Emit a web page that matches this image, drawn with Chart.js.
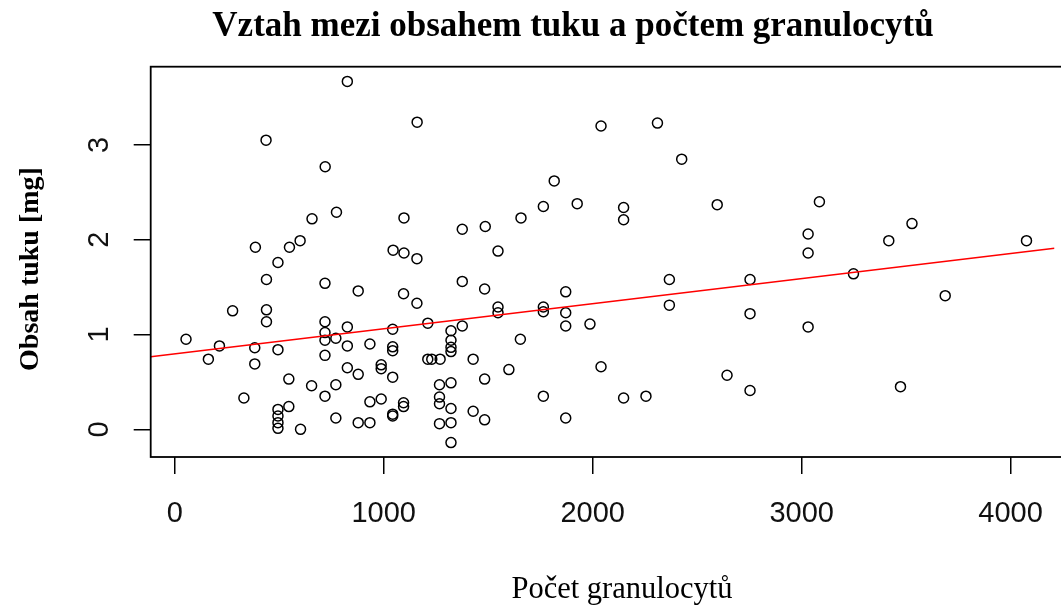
<!DOCTYPE html>
<html><head><meta charset="utf-8">
<script src="https://cdn.jsdelivr.net/npm/chart.js@4/dist/chart.umd.min.js"></script>
<style>html,body{margin:0;padding:0;background:#fff;}canvas{display:block}</style>
</head><body>
<canvas id="c" width="1061" height="606"></canvas>
<script>
const titleText = "Vztah mezi obsahem tuku a počtem granulocytů";
const xTitle = "Počet granulocytů";
const yTitle = "Obsah tuku [mg]";

const granulocyty = [826,1160,437,2040,2310,2426,720,1816,774,657,
1097,1764,1926,2148,2148,2596,1657,1486,1376,3085,
3031,3031,3417,3528,4076,386,549,600,494,1045,
1097,1159,1547,439,719,878,1095,1159,1376,1483,
1871,2367,2753,3248,3687,277,439,439,1547,1547,
1764,1764,1871,2367,2753,1871,1987,1376,3031,54,
214,161,383,383,494,719,719,719,719,826,
771,826,934,1043,1043,1043,1211,1322,1322,1322,
1322,1211,1230,1270,1428,546,655,771,719,331,
826,878,988,988,1043,934,988,1095,1095,1043,
1043,546,494,494,494,494,602,771,878,934,
1267,1322,1267,1267,1322,1267,1322,1322,1428,1483,
1483,1599,1654,1764,2148,2255,2040,2643,2753,3473,
1871];

const tuk = [3.67,3.24,3.05,3.20,3.23,2.85,2.77,2.62,2.29,2.22,
2.23,2.35,2.38,2.34,2.21,2.37,2.23,2.14,2.11,2.40,
2.06,1.86,1.99,2.17,1.99,1.92,1.92,1.99,1.76,1.89,
1.86,1.80,1.88,1.58,1.54,1.46,1.43,1.33,1.56,1.48,
1.45,1.58,1.58,1.64,1.41,1.25,1.26,1.135,1.29,1.23,
1.29,1.24,1.23,1.31,1.22,1.09,1.11,1.09,1.08,0.95,
0.88,0.74,0.86,0.69,0.84,1.135,1.02,0.94,0.78,1.08,
0.96,0.88,0.90,1.055,0.87,0.83,1.12,1.04,0.94,0.865,
0.82,0.74,0.74,0.74,0.74,0.53,0.46,0.47,0.35,0.33,
0.65,0.58,0.68,0.64,0.55,0.29,0.32,0.28,0.24,0.16,
0.14,0.24,0.21,0.14,0.07,0.01,0.0,0.12,0.07,0.07,
0.47,0.49,0.34,0.27,0.22,0.06,0.07,-0.14,0.19,0.10,
0.53,0.63,0.95,0.35,0.33,0.35,0.66,0.57,0.41,0.45,
0.12];

const xTicks = [0,1000,2000,3000,4000];
const yTicks = [0,1,2,3];
const fitX = [-115, 4210];
const fitY = [0.766, 1.910];
const xRange = [-115, 4210];
const yRange = [-0.292, 3.825];

const pts = granulocyty.map((x,i)=>({x:x, y:tuk[i]}));
const fit = fitX.map((x,i)=>({x:x, y:fitY[i]}));

const rPlot = {
  id:'rplot',
  afterDraw(chart){
    const ctx = chart.ctx, a = chart.chartArea, xs = chart.scales.x, ys = chart.scales.y;
    ctx.save();
    ctx.strokeStyle = '#000'; ctx.lineWidth = 1.8;
    ctx.strokeRect(a.left, a.top, a.right - a.left + 10, a.bottom - a.top);
    ctx.fillStyle = '#111';
    ctx.font = '29px "Liberation Sans", Arial, sans-serif';
    ctx.textAlign = 'center'; ctx.textBaseline = 'alphabetic';
    xs.ticks.forEach(t => ctx.fillText(String(t.value), xs.getPixelForValue(t.value), 522));
    ys.ticks.forEach(t => {
      ctx.save(); ctx.translate(108, ys.getPixelForValue(t.value)); ctx.rotate(-Math.PI/2);
      ctx.fillText(String(t.value), 0, 0); ctx.restore();
    });
    ctx.fillStyle = '#000';
    ctx.font = 'bold 35px "Liberation Serif", "Times New Roman", serif';
    ctx.fillText(titleText, 573, 36);
    ctx.font = '30.5px "Liberation Serif", "Times New Roman", serif';
    ctx.fillText(xTitle, 622, 598);
    ctx.save(); ctx.translate(38, 269); ctx.rotate(-Math.PI/2);
    ctx.font = 'bold 28px "Liberation Serif", "Times New Roman", serif';
    ctx.fillText(yTitle, 0, 0); ctx.restore();
    ctx.restore();
  }
};

new Chart(document.getElementById('c'), {
  type: 'scatter',
  data: { datasets: [
    { data: fit, showLine: true, pointRadius: 0, borderColor: '#ff0000', borderWidth: 1.6, order: 0 },
    { data: pts, pointRadius: 5, pointBorderWidth: 1.5, pointBorderColor: '#000', pointBackgroundColor: 'rgba(0,0,0,0)', borderColor: '#000', backgroundColor: 'rgba(0,0,0,0)', order: 1 }
  ]},
  options: {
    responsive: false, animation: false, devicePixelRatio: 1, events: [],
    layout: { padding: { top: 66.7, left: 0, right: 0, bottom: 0 } },
    plugins: { legend: { display: false }, tooltip: { enabled: false }, title: { display: false } },
    scales: {
      x: { type: 'linear', min: xRange[0], max: xRange[1],
        afterBuildTicks: s => { s.ticks = xTicks.map(v => ({value: v})); },
        afterFit: s => { s.height = 149; },
        ticks: { display: false },
        grid: { drawOnChartArea: false, drawTicks: true, tickLength: 17, color: '#000', lineWidth: 1.5 },
        border: { display: false } },
      y: { type: 'linear', min: yRange[0], max: yRange[1],
        afterBuildTicks: s => { s.ticks = yTicks.map(v => ({value: v})); },
        afterFit: s => { s.width = 150.7; },
        ticks: { display: false },
        grid: { drawOnChartArea: false, drawTicks: true, tickLength: 17, color: '#000', lineWidth: 1.5 },
        border: { display: false } }
    }
  },
  plugins: [rPlot]
});
</script>
</body></html>
